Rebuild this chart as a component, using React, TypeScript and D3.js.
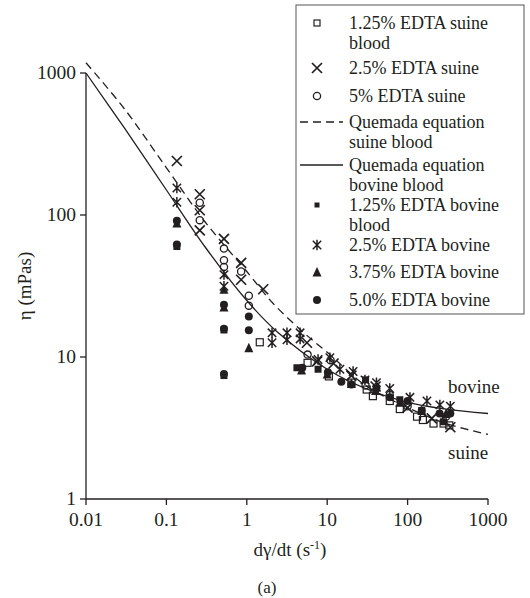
import React from "react";
import * as d3 from "d3";

// ---- data (shear rate s^-1, viscosity mPas) ----
const suine125: [number, number][] = [
  [1.45, 12.7], [5.7, 9.1], [10.5, 7.3], [20, 6.6], [31, 5.9], [37, 5.3], [60, 4.9],
  [80, 4.3], [131, 3.8], [155, 3.6], [210, 3.4], [280, 3.4], [330, 3.3],
];
const suine25: [number, number][] = [
  [0.135, 240], [0.26, 140], [0.26, 108], [0.26, 78], [0.52, 68], [0.85, 46], [0.85, 35],
  [1.6, 30], [5.6, 12.6], [7.5, 9.3], [12, 9.0], [20, 7.4], [40, 6.2], [100, 4.4],
  [200, 3.7], [340, 3.2],
];
const suine5: [number, number][] = [
  [0.26, 122], [0.26, 92], [0.52, 58], [0.52, 48], [0.52, 43], [0.85, 40], [1.06, 27],
  [1.06, 23], [5.7, 10.4], [11, 9.5], [30, 6.3], [60, 5.4], [100, 4.5], [300, 3.8],
];
const bovine125: [number, number][] = [
  [0.135, 60], [0.52, 15.5], [0.52, 7.4], [4.2, 8.4], [7.7, 8.2], [30, 6.9], [80, 5.0],
  [150, 4.2], [280, 3.5],
];
const bovine25: [number, number][] = [
  [0.135, 155], [0.135, 123], [0.52, 38], [0.52, 31.5], [2.06, 14.8], [2.06, 12.6],
  [3.16, 14.8], [3.16, 13.2], [4.6, 14.8], [4.6, 13.4], [7.7, 9.6], [10.8, 9.9],
  [14.4, 8.2], [21, 7.9], [29.5, 6.9], [41, 6.6], [60, 6.0], [107, 5.2], [174, 4.9],
  [252, 4.6], [340, 4.5],
];
const bovine375: [number, number][] = [
  [0.135, 88], [0.52, 30], [0.52, 22.5], [1.06, 11.6], [4.8, 8.1], [10, 7.6], [20, 6.5],
  [40, 5.8], [80, 4.8], [150, 4.2], [300, 4.0],
];
const bovine50: [number, number][] = [
  [0.135, 91], [0.135, 62], [0.52, 23.3], [0.52, 15.8], [0.52, 7.6], [1.06, 19.3],
  [1.06, 15.4], [4.9, 8.4], [10.2, 7.8], [15, 6.7], [20, 6.4], [41, 6.0], [60, 5.2],
  [100, 4.9], [150, 4.2], [250, 4.0], [340, 4.0],
];
const quemadaSuine: [number, number][] = [
  [0.01, 1180], [0.03, 560], [0.1, 215], [0.3, 90], [1, 40], [2.1, 24], [5, 15],
  [10.8, 10.4], [30, 6.3], [100, 4.4], [300, 3.4], [1000, 2.85],
];
const quemadaBovine: [number, number][] = [
  [0.01, 1000], [0.03, 410], [0.1, 150], [0.3, 60], [1, 25], [2.4, 15], [10, 8.2],
  [30, 6.0], [100, 4.8], [300, 4.3], [1000, 4.0],
];

const xTicks = [0.01, 0.1, 1, 10, 100, 1000];
const xTickLabels = ["0.01", "0.1", "1", "10", "100", "1000"];
const yTicks = [1, 10, 100, 1000];
const yTickLabels = ["1", "10", "100", "1000"];

const legendLabels: string[][] = [
  ["1.25% EDTA suine", "blood"],
  ["2.5% EDTA suine"],
  ["5% EDTA suine"],
  ["Quemada equation", "suine blood"],
  ["Quemada equation", "bovine blood"],
  ["1.25% EDTA bovine", "blood"],
  ["2.5% EDTA bovine"],
  ["3.75% EDTA bovine"],
  ["5.0% EDTA bovine"],
];
const legendKinds = ["sqOpen", "cross", "circOpen", "dash", "solid", "sqFill", "star", "tri", "circFill"];

const INK = "#231f20";
const FONT = "'Liberation Serif', 'Times New Roman', serif";

function Marker({ kind, x, y, legend = false }: { kind: string; x: number; y: number; legend?: boolean }) {
  switch (kind) {
    case "sqOpen": {
      const s = legend ? 6 : 7;
      return <rect x={x - s / 2} y={y - s / 2} width={s} height={s} fill="none" stroke={INK} strokeWidth={1.2} />;
    }
    case "sqFill": {
      const s = legend ? 5 : 7;
      return <rect x={x - s / 2} y={y - s / 2} width={s} height={s} fill={INK} />;
    }
    case "cross": {
      const h = 5;
      return (
        <path d={`M${x - h},${y - h}L${x + h},${y + h}M${x - h},${y + h}L${x + h},${y - h}`} stroke={INK} strokeWidth={1.7} />
      );
    }
    case "star": {
      const h = 4.2;
      return (
        <path
          d={`M${x - h},${y - h}L${x + h},${y + h}M${x - h},${y + h}L${x + h},${y - h}M${x},${y - 5.2}L${x},${y + 5.2}`}
          stroke={INK}
          strokeWidth={1.5}
        />
      );
    }
    case "circOpen":
      return <circle cx={x} cy={y} r={3.6} fill="none" stroke={INK} strokeWidth={1.3} />;
    case "circFill":
      return <circle cx={x} cy={y} r={4} fill={INK} />;
    case "tri": {
      const h = 4.5;
      return <path d={`M${x},${y - h - 0.5}L${x + h},${y + h}L${x - h},${y + h}Z`} fill={INK} />;
    }
  }
  return null;
}

export default function App() {
  const W = 530;
  const H = 598;
  const x = d3.scaleLog().domain([0.01, 1000]).range([86, 488]);
  const y = d3.scaleLog().domain([1, 1000]).range([499, 73]);
  const line = d3
    .line<[number, number]>()
    .x((d) => x(d[0]))
    .y((d) => y(d[1]))
    .curve(d3.curveCatmullRom.alpha(0.5));

  const series: { kind: string; data: [number, number][] }[] = [
    { kind: "sqFill", data: bovine125 },
    { kind: "tri", data: bovine375 },
    { kind: "circFill", data: bovine50 },
    { kind: "star", data: bovine25 },
    { kind: "sqOpen", data: suine125 },
    { kind: "circOpen", data: suine5 },
    { kind: "cross", data: suine25 },
  ];

  const legendY = [23, 68, 96, 122, 165, 205, 245, 272, 300];
  const lineGap = 20;

  return (
    <svg
      width={W}
      height={H}
      style={{ position: "absolute", left: 0, top: 0, background: "#fff" }}
      fontFamily={FONT}
    >
      <rect x={0} y={0} width={W} height={H} fill="#fff" />
      {/* axes */}
      <line x1={x(0.01)} x2={x(0.01)} y1={y(1000)} y2={y(1)} stroke={INK} strokeWidth={1.3} />
      <line x1={x(0.01)} x2={x(1000)} y1={y(1)} y2={y(1)} stroke={INK} strokeWidth={1.3} />
      {xTicks.map((t, i) => (
        <g key={"xt" + i}>
          <line x1={x(t)} x2={x(t)} y1={y(1)} y2={y(1) + 6} stroke={INK} strokeWidth={1.3} />
          <text x={x(t)} y={y(1) + 27} textAnchor="middle" fontSize={19.5} fill={INK}>
            {xTickLabels[i]}
          </text>
        </g>
      ))}
      {yTicks.map((t, i) => (
        <g key={"yt" + i}>
          <line x1={x(0.01) - 6} x2={x(0.01)} y1={y(t)} y2={y(t)} stroke={INK} strokeWidth={1.3} />
          <text x={x(0.01) - 10} y={y(t) + 6} textAnchor="end" fontSize={19.5} fill={INK}>
            {yTickLabels[i]}
          </text>
        </g>
      ))}
      <text x={290} y={556} textAnchor="middle" fontSize={19} fill={INK}>
        dγ/dt (s
        <tspan dy={-7} fontSize={12}>
          -1
        </tspan>
        <tspan dy={7}>)</tspan>
      </text>
      <text x={267} y={593} textAnchor="middle" fontSize={17} fill={INK}>
        (a)
      </text>
      <text
        transform={`translate(31,${(y(1) + y(1000)) / 2}) rotate(-90)`}
        textAnchor="middle"
        fontSize={19}
        fill={INK}
      >
        η (mPas)
      </text>

      {/* model curves */}
      <path d={line(quemadaSuine) || ""} fill="none" stroke={INK} strokeWidth={1.3} strokeDasharray="8,5" />
      <path d={line(quemadaBovine) || ""} fill="none" stroke={INK} strokeWidth={1.3} />

      {/* data */}
      {series.map((s) =>
        s.data.map((d, i) => <Marker key={s.kind + i} kind={s.kind} x={x(d[0])} y={y(d[1])} />)
      )}

      <text x={448} y={393} fontSize={19} fill={INK}>
        bovine
      </text>
      <text x={448} y={459} fontSize={19} fill={INK}>
        suine
      </text>

      {/* legend */}
      <rect x={296} y={5} width={228} height={309} fill="#fff" stroke="#555" strokeWidth={1} />
      {legendLabels.map((lines, i) => {
        const ly = legendY[i];
        const kind = legendKinds[i];
        return (
          <g key={"lg" + i}>
            {kind === "dash" ? (
              <line x1={300} x2={343} y1={ly} y2={ly} stroke={INK} strokeWidth={1.3} strokeDasharray="8,5" />
            ) : kind === "solid" ? (
              <line x1={300} x2={343} y1={ly} y2={ly} stroke={INK} strokeWidth={1.3} />
            ) : (
              <Marker kind={kind} x={317} y={ly} legend />
            )}
            {lines.map((t, j) => (
              <text key={j} x={349} y={ly + 6 + j * lineGap} fontSize={18} fill={INK}>
                {t}
              </text>
            ))}
          </g>
        );
      })}
    </svg>
  );
}
